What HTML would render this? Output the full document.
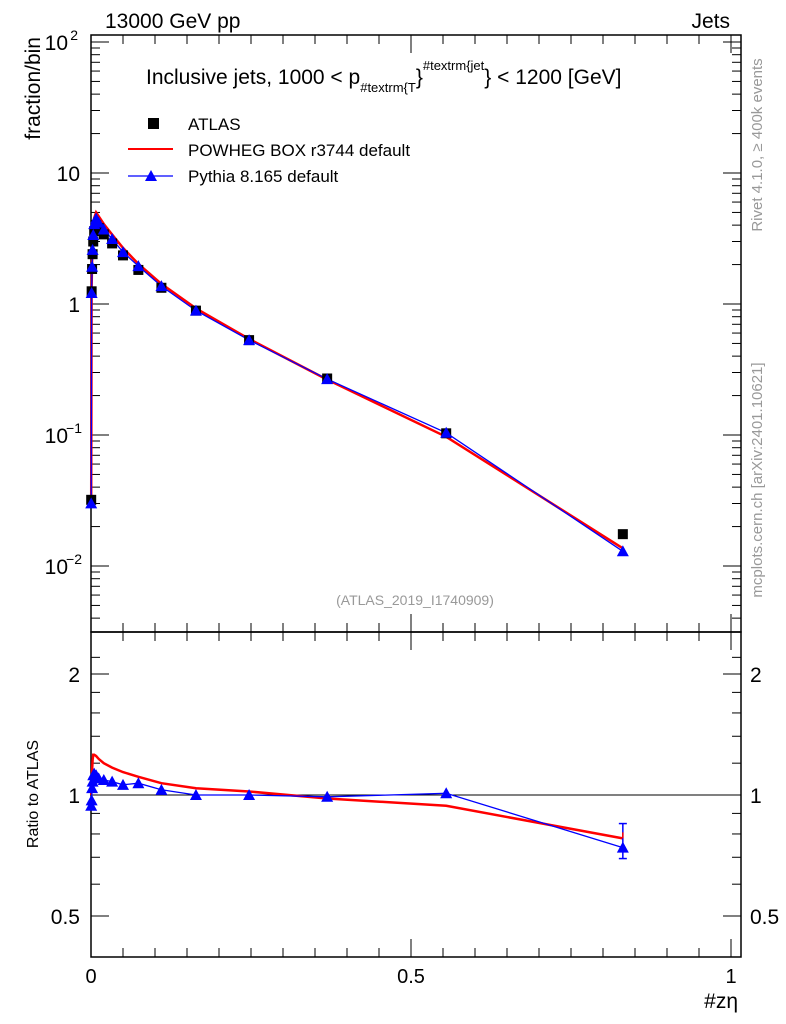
<!DOCTYPE html>
<html><head><meta charset="utf-8"><style>
body{margin:0;background:#fff;}
svg{display:block;font-family:"Liberation Sans",sans-serif;}
</style></head><body>
<svg id="c" width="786" height="1024" viewBox="0 0 786 1024"></svg>
<script>
const xs = [0.0003,0.001,0.0017,0.0025,0.0035,0.005,0.008,0.012,0.02,0.033,0.05,0.074,0.11,0.164,0.247,0.369,0.555,0.831];
const atlas = [0.032,1.25,1.85,2.4,3.0,3.6,4.0,3.8,3.4,2.9,2.35,1.82,1.33,0.89,0.53,0.27,0.103,0.0175];
const powhegRatio = [1.0,1.05,1.15,1.22,1.26,1.26,1.25,1.23,1.2,1.17,1.14,1.11,1.07,1.04,1.02,0.98,0.94,0.78];
const pythiaRatio = [0.94,0.97,1.04,1.08,1.12,1.13,1.12,1.1,1.09,1.08,1.06,1.07,1.03,1.0,1.0,0.99,1.01,0.74];
const xTicks = [0,0.5,1];
const xTickLabels = ["0","0.5","1"];

const NS="http://www.w3.org/2000/svg";
const svg=document.getElementById('c');
function el(t,a,p){const e=document.createElementNS(NS,t);for(const k in a)e.setAttribute(k,a[k]);(p||svg).appendChild(e);return e;}
const L=91,R=741,T=35,MB=632,RB=957;
const X=v=>91+v*640;
const Y=v=>304-131*Math.log10(v);
const RY=v=>795-402*Math.log10(v);

let f=el('rect',{x:L,y:T,width:R-L,height:MB-T,fill:'none',stroke:'#000','stroke-width':1.5});

f=el('rect',{x:L,y:MB,width:R-L,height:RB-MB,fill:'none',stroke:'#000','stroke-width':1.5});


for(let i=0;i<=20;i++){const v=i*0.05,x=X(v),maj=(i%10==0),len=maj?18:9;
 el('line',{x1:x,x2:x,y1:T,y2:T+len,stroke:'#000'});el('line',{x1:x,x2:x,y1:MB,y2:MB-len,stroke:'#000'});
 el('line',{x1:x,x2:x,y1:MB,y2:MB+len,stroke:'#000'});el('line',{x1:x,x2:x,y1:RB,y2:RB-len,stroke:'#000'});}
xTicks.forEach((v,i)=>{const t=el('text',{x:X(v),y:983,'font-size':20,'text-anchor':'middle'});t.textContent=xTickLabels[i];
 });

for(let d=-3;d<=1;d++){for(let m=1;m<10;m++){const v=m*Math.pow(10,d),y=Y(v);if(y<T||y>MB)continue;const len=m==1?18:9;
 el('line',{x1:L,x2:L+len,y1:y,y2:y,stroke:'#000'});el('line',{x1:R,x2:R-len,y1:y,y2:y,stroke:'#000'});}}
el('line',{x1:L,x2:L+18,y1:Y(100),y2:Y(100),stroke:'#000'});el('line',{x1:R,x2:R-18,y1:Y(100),y2:Y(100),stroke:'#000'});
[[100,'10','2'],[10,'10',''],[1,'1',''],[0.1,'10','−1'],[0.01,'10','−2']].forEach(a=>{
 const t=el('text',{x:a[2]?68:80,y:Y(a[0])+8,'font-size':21,'text-anchor':'end'});t.textContent=a[1];
 
 if(a[2]){const s=el('text',{x:a[2].length>1?82:78,y:Y(a[0])-2,'font-size':14,'text-anchor':'end'});s.textContent=a[2];}});

[0.5,0.6,0.7,0.8,0.9,1,1.2,1.4,1.6,1.8,2,2.2].forEach(v=>{const y=RY(v);const len=(v==0.5||v==1||v==2)?18:9;
 el('line',{x1:L,x2:L+len,y1:y,y2:y,stroke:'#000'});el('line',{x1:R,x2:R-len,y1:y,y2:y,stroke:'#000'});});
[[0.5,'0.5'],[1,'1'],[2,'2']].forEach(a=>{
 let t=el('text',{x:80,y:RY(a[0])+8,'font-size':21,'text-anchor':'end'});t.textContent=a[1];
 
 t=el('text',{x:750,y:RY(a[0])+8,'font-size':21});t.textContent=a[1];});
el('line',{x1:L,x2:R,y1:RY(1),y2:RY(1),stroke:'#000'});

function path(vals,fy){return vals.map((v,i)=>(i?'L':'M')+X(xs[i]).toFixed(1)+','+fy(v).toFixed(1)).join('');}
const pow=atlas.map((a,i)=>a*powhegRatio[i]), py=atlas.map((a,i)=>a*pythiaRatio[i]);
let p=el('path',{d:path(pow,Y),fill:'none',stroke:'#f00','stroke-width':2.5});
p=el('path',{d:path(py,Y),fill:'none',stroke:'#00f','stroke-width':1.3});
function tri(x,y,name){const t=el('path',{d:`M${x},${y-6}L${x+6},${y+5}L${x-6},${y+5}Z`,fill:'#00f'});}
atlas.forEach((v,i)=>{const r=el('rect',{x:X(xs[i])-5,y:Y(v)-5,width:10,height:10,fill:'#000'});});
py.forEach((v,i)=>tri(X(xs[i]),Y(v),'pythia-point'));

p=el('path',{d:path(powhegRatio,RY),fill:'none',stroke:'#f00','stroke-width':2.5});
p=el('path',{d:path(pythiaRatio,RY),fill:'none',stroke:'#00f','stroke-width':1.3});
pythiaRatio.forEach((v,i)=>tri(X(xs[i]),RY(v),'pythia-ratio-point'));
const n=xs.length-1, xe=X(xs[n]);
el('line',{x1:xe,x2:xe,y1:RY(pythiaRatio[n])-24,y2:RY(pythiaRatio[n])+11,stroke:'#00f','stroke-width':1.5});
el('line',{x1:xe-4,x2:xe+4,y1:RY(pythiaRatio[n])-24,y2:RY(pythiaRatio[n])-24,stroke:'#00f','stroke-width':1.5});
el('line',{x1:xe-4,x2:xe+4,y1:RY(pythiaRatio[n])+11,y2:RY(pythiaRatio[n])+11,stroke:'#00f','stroke-width':1.5});
el('line',{x1:xe,x2:xe,y1:RY(powhegRatio[n])-6,y2:RY(powhegRatio[n]),stroke:'#f00','stroke-width':1.5});

function txt(s,a,name){const t=el('text',a);t.textContent=s;return t;}
txt('13000 GeV pp',{x:105,y:28,'font-size':21},'header-left');
txt('Jets',{x:730,y:28,'font-size':21,'text-anchor':'end'},'header-right');
const tt=txt('',{x:146,y:84,'font-size':21},'plot-title');
tt.innerHTML='Inclusive jets, 1000 &lt; p<tspan font-size="13" dy="8">#textrm{T</tspan><tspan dy="-8">}</tspan><tspan font-size="13" dy="-14">#textrm{jet</tspan><tspan dy="14">} &lt; 1200 [GeV]</tspan>';
el('rect',{x:148,y:118,width:11,height:11,fill:'#000'});
txt('ATLAS',{x:188,y:130,'font-size':17},'legend-atlas');
el('line',{x1:128,x2:173,y1:149,y2:149,stroke:'#f00','stroke-width':2});
txt('POWHEG BOX r3744 default',{x:188,y:156,'font-size':17},'legend-powheg');
el('line',{x1:128,x2:173,y1:176,y2:176,stroke:'#00f','stroke-width':1.3});
tri(151,176,'legend-pythia-marker');
txt('Pythia 8.165 default',{x:188,y:182,'font-size':17},'legend-pythia');
txt('(ATLAS_2019_I1740909)',{x:415,y:605,'font-size':14,fill:'#999','text-anchor':'middle'},'analysis-id');
txt('fraction/bin',{x:0,y:0,'font-size':21,'text-anchor':'end',transform:'translate(40,37) rotate(-90)'},'y-axis-title');
txt('Ratio to ATLAS',{x:0,y:0,'font-size':16,'text-anchor':'middle',transform:'translate(38,794) rotate(-90)'},'ratio-axis-title');
txt('#zη',{x:738,y:1008,'font-size':21,'text-anchor':'end'},'x-axis-title');
txt('Rivet 4.1.0, ≥ 400k events',{x:0,y:0,'font-size':15,fill:'#999','text-anchor':'middle',transform:'translate(762,145) rotate(-90)'},'rivet-label');
txt('mcplots.cern.ch [arXiv:2401.10621]',{x:0,y:0,'font-size':15,fill:'#999','text-anchor':'middle',transform:'translate(762,480) rotate(-90)'},'mcplots-label');
</script>
</body></html>
